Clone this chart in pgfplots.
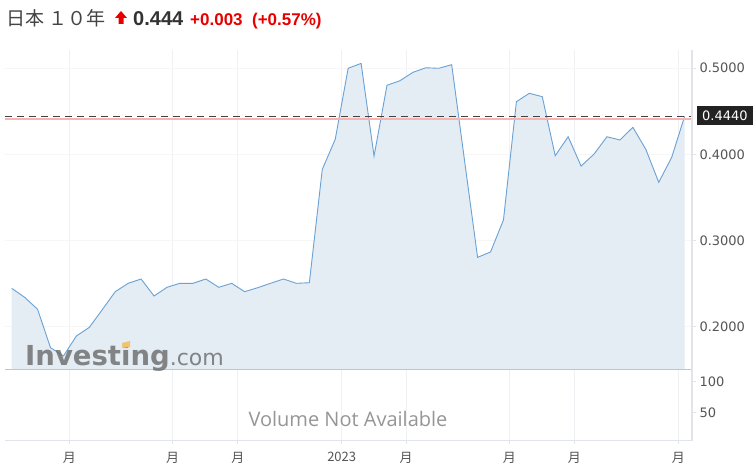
\documentclass[border=0pt]{standalone}
\usepackage{fontspec}
\setmainfont{DejaVu Sans}
\newfontfamily\cjk{Noto Sans CJK JP}
\newfontfamily\arial{Liberation Sans}
\newfontfamily\osans{Open Sans}
\usepackage{pgfplots}
\usepackage{pgfplotstable}
\pgfplotsset{compat=1.18}

\definecolor{linec}{RGB}{105,162,212}
\definecolor{fillc}{RGB}{228,236,244}
\definecolor{gridc}{RGB}{240,241,245}
\definecolor{hgridc}{RGB}{246,246,246}
\definecolor{axc}{RGB}{225,229,235}
\definecolor{basec}{RGB}{196,196,196}
\definecolor{labc}{RGB}{85,85,85}
\definecolor{headc}{RGB}{68,68,68}
\definecolor{numc}{RGB}{51,51,51}
\definecolor{boxc}{RGB}{34,34,34}
\definecolor{wmc}{RGB}{105,105,105}
\definecolor{volc}{RGB}{150,150,150}
\definecolor{upred}{RGB}{230,0,0}
\definecolor{pinkc}{RGB}{247,178,178}
\definecolor{dotc}{RGB}{240,195,110}

% weekly close, index 0..52
\pgfplotstableread{
i  y
0  0.2447
1  0.2343
2  0.2204
3  0.1759
4  0.1663
5  0.1895
6  0.1995
7  0.2200
8  0.2408
9  0.2505
10 0.2555
11 0.2358
12 0.2459
13 0.2505
14 0.2505
15 0.2555
16 0.2459
17 0.2505
18 0.2408
19 0.2454
20 0.2505
21 0.2555
22 0.2505
23 0.2512
24 0.3826
25 0.4174
26 0.4997
27 0.5054
28 0.3980
29 0.4800
30 0.4853
31 0.4950
32 0.5003
33 0.4997
34 0.5039
35 0.3920
36 0.2806
37 0.2868
38 0.3239
39 0.4610
40 0.4707
41 0.4668
42 0.3984
43 0.4204
44 0.3864
45 0.4003
46 0.4204
47 0.4166
48 0.4313
49 0.4058
50 0.3676
51 0.3965
52 0.4440
}\jgb

\pgfplotsset{
  panel/.style={
    scale only axis, width=687pt,
    xmin=-0.518, xmax=52.57,
    axis line style={draw=none},
    xtick={4.45,12.44,17.47,25.50,30.47,38.45,43.48,51.51},
    xmajorgrids, grid style={gridc, line width=0.8pt},
    tick style={axc, line width=0.8pt},
    major tick length=4pt,
    tick align=outside,
    ytick pos=right, xtick pos=bottom,
    yticklabel pos=right,
    yticklabel style={font=\fontsize{13}{13}\selectfont, text=labc},
    xticklabel style={font=\cjk\fontsize{13}{13}\selectfont, text=labc},
    /pgf/number format/assume math mode=true,
  }
}

\begin{document}
\begin{tikzpicture}
\fill[white] (0pt,0pt) rectangle (755pt,472pt);

% header
\node[anchor=base west, inner sep=0, text=headc]
  at (6pt,446pt) {\cjk\fontsize{19}{19}\selectfont 日本 １０年};
\fill[upred] (121pt,461pt) -- (127pt,454pt) -- (123.5pt,454pt) -- (123.5pt,448pt)
  -- (118.5pt,448pt) -- (118.5pt,454pt) -- (115pt,454pt) -- cycle;
\node[anchor=base west, inner sep=0, text=numc]
  at (133pt,446pt) {\arial\bfseries\fontsize{20}{20}\selectfont 0.444};
\node[anchor=base west, inner sep=0, text=upred]
  at (190pt,446pt) {\arial\bfseries\fontsize{17}{17}\selectfont +0.003 \ (+0.57\%)};

% price panel
\begin{axis}[panel,
  at={(5pt,103pt)}, anchor=south west, height=319pt,
  ymin=0.1512, ymax=0.5209,
  ytick={0.2,0.3,0.4,0.5},
  ymajorgrids,
  y grid style={hgridc, line width=0.8pt},
  xticklabels={},
  yticklabel style={/pgf/number format/.cd, fixed, fixed zerofill, precision=4},
]
\addplot[fill=fillc, draw=none] table[x=i, y=y] {\jgb} \closedcycle;
\addplot[linec, line width=0.9pt] table[x=i, y=y] {\jgb};
\addplot[pinkc, line width=1.1pt] coordinates {(-0.518,0.4409) (52.57,0.4409)};
\addplot[black!75, line width=0.9pt, dash pattern=on 7pt off 5pt]
  coordinates {(-0.518,0.4440) (52.57,0.4440)};
\end{axis}

% volume panel
\begin{axis}[panel,
  at={(5pt,32pt)}, anchor=south west, height=71pt,
  ymin=4.7, ymax=120.7,
  ytick={50,100},
  xticklabels={月,月,月,2023,月,月,月,月},
  xticklabel style={yshift=-5pt},
]
\end{axis}

% frame lines
\draw[basec, line width=1pt] (5pt,103pt) -- (692pt,103pt);
\draw[axc, line width=1.2pt] (5pt,31.5pt) -- (692pt,31.5pt);
\draw[axc, line width=1.2pt] (692pt,31.5pt) -- (692pt,422pt);

% current value box
\node[anchor=west, fill=boxc, text=white,
  minimum height=19pt, inner xsep=5pt, inner ysep=0pt]
  at (697pt,356pt) {\fontsize{13}{13}\selectfont 0.4440};

% watermark and volume note
\node[anchor=base west, inner sep=0, text=wmc, opacity=0.8]
  at (25pt,107pt) {\fontsize{27.5}{27.5}\selectfont\bfseries Investing\mdseries\fontsize{22}{22}\selectfont .com};
\fill[dotc] (122pt,124pt) -- (130pt,125pt) -- (130pt,131pt) -- (122pt,129pt) -- cycle;
\node[anchor=base, inner sep=0, text=volc]
  at (348pt,45.3pt) {\osans\fontsize{20}{20}\selectfont Volume Not Available};
\end{tikzpicture}
\end{document}
